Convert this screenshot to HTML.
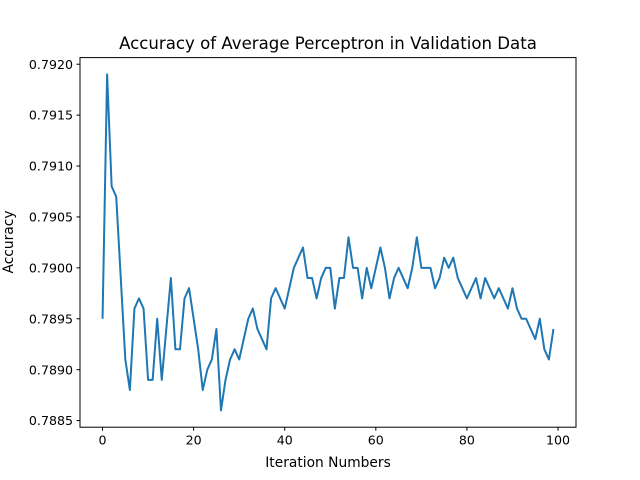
<!DOCTYPE html>
<html><head><meta charset="utf-8"><style>
body{margin:0;background:#fff;}
svg{display:block;font-family:"DejaVu Sans","Liberation Sans",sans-serif;}
</style></head><body>
<svg id="chart" width="640" height="480">
<rect width="640" height="480" fill="#fff"/>
<text x="328" y="49" text-anchor="middle" font-size="16.6">Accuracy of Average Perceptron in Validation Data</text>
<text x="328" y="467" text-anchor="middle" font-size="13.8">Iteration Numbers</text>
<text transform="translate(13,242) rotate(-90)" text-anchor="middle" font-size="13.8">Accuracy</text>
<g id="ticks"></g>
<path id="line" fill="none" stroke="#1f77b4" stroke-width="2" stroke-linejoin="round"/>
<rect x="80" y="57.6" width="496" height="369.6" fill="none" stroke="#000" stroke-width="1"/>
</svg>
<script>
const acc=[0.7895,0.7919,0.7908,0.7907,0.7899,0.7891,0.7888,0.7896,0.7897,0.7896,
0.7889,0.7889,0.7895,0.7889,0.7894,0.7899,0.7892,0.7892,0.7897,0.7898,
0.7895,0.7892,0.7888,0.7890,0.7891,0.7894,0.7886,0.7889,0.7891,0.7892,
0.7891,0.7893,0.7895,0.7896,0.7894,0.7893,0.7892,0.7897,0.7898,0.7897,
0.7896,0.7898,0.7900,0.7901,0.7902,0.7899,0.7899,0.7897,0.7899,0.7900,
0.7900,0.7896,0.7899,0.7899,0.7903,0.7900,0.7900,0.7897,0.7900,0.7898,
0.7900,0.7902,0.7900,0.7897,0.7899,0.7900,0.7899,0.7898,0.7900,0.7903,
0.7900,0.7900,0.7900,0.7898,0.7899,0.7901,0.7900,0.7901,0.7899,0.7898,
0.7897,0.7898,0.7899,0.7897,0.7899,0.7898,0.7897,0.7898,0.7897,0.7896,
0.7898,0.7896,0.7895,0.7895,0.7894,0.7893,0.7895,0.7892,0.7891,0.7894];
const xTicks=[0,20,40,60,80,100];
const yTicks=[0.7885,0.7890,0.7895,0.7900,0.7905,0.7910,0.7915,0.7920];
const L=80,R=576,T=57.6,B=427.2;
const n=acc.length;
const xm=(n-1)*0.05, xmin=-xm, xmax=n-1+xm;
const lo=Math.min(...acc), hi=Math.max(...acc), ym=(hi-lo)*0.05;
const ymin=lo-ym, ymax=hi+ym;
const sx=v=>L+(v-xmin)/(xmax-xmin)*(R-L);
const sy=v=>B-(v-ymin)/(ymax-ymin)*(B-T);
const NS="http://www.w3.org/2000/svg";
const g=document.getElementById('ticks');
function mk(t,a){const e=document.createElementNS(NS,t);for(const k in a)e.setAttribute(k,a[k]);g.appendChild(e);return e;}
xTicks.forEach(v=>{const x=sx(v);
 const l=mk('line',{x1:x,x2:x,y1:B,y2:B+3.5,stroke:'#000'});
 
 
 const t=mk('text',{x:x,y:B+17.5,'text-anchor':'middle','font-size':'12.6'});t.textContent=v;
 
 
});
yTicks.forEach(v=>{const y=sy(v);
 const l=mk('line',{x1:L-3.5,x2:L,y1:y,y2:y,stroke:'#000'});
 
 
 const t=mk('text',{x:L-7,y:y+4.6,'text-anchor':'end','font-size':'12.6'});t.textContent=v.toFixed(4);
 
 
});
document.getElementById('line').setAttribute('d',acc.map((v,i)=>(i?'L':'M')+sx(i).toFixed(2)+' '+sy(v).toFixed(2)).join(' '));
</script>
</body></html>
